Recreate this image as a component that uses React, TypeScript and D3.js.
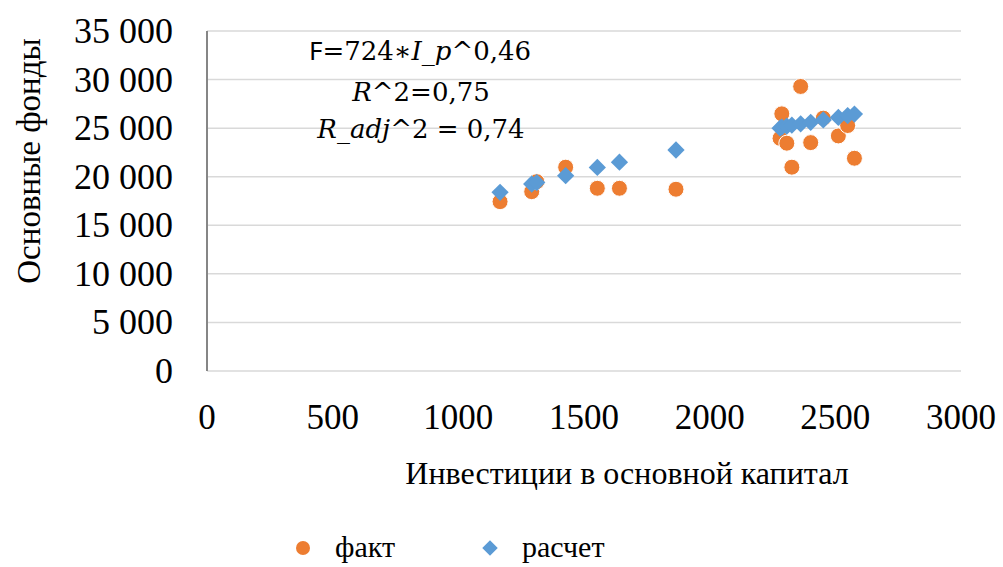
import * as d3 from "d3";

// инвестиции (ось X) и основные фонды (ось Y)
const investX = [1166, 1292, 1312, 1427, 1553, 1641, 1866, 2280, 2287, 2307, 2327, 2362, 2402, 2452, 2512, 2549, 2576];
const factY = [17430, 18460, 19490, 20980, 18810, 18810, 18710, 23950, 26470, 23450, 20980, 29290, 23510, 26030, 24200, 25270, 21900];
const calcY = [18400, 19250, 19400, 20100, 20950, 21500, 22750, 25000, 25100, 25200, 25300, 25450, 25600, 25850, 26100, 26300, 26450];

const xTicks = [0, 500, 1000, 1500, 2000, 2500, 3000];
const yTicks = [0, 5000, 10000, 15000, 20000, 25000, 30000, 35000];

const seriesNames = ["факт", "расчет"];
const ORANGE = "#ED7D31";
const BLUE = "#5B9BD5";

const serif = "'Liberation Serif', 'Times New Roman', serif";
const mathFont = "'DejaVu Serif', serif";

export default function App() {
  const W = 1003;
  const H = 567;
  const left = 207;
  const right = 961;
  const top = 31;
  const bottom = 371;

  const x = d3.scaleLinear().domain([0, 3000]).range([left, right]);
  const y = d3.scaleLinear().domain([0, 35000]).range([bottom, top]);

  const fmt = (v: number) => d3.format(",")(v).replace(/,/g, "\u00a0");
  const diamond = d3.symbol().type(d3.symbolDiamond2).size(190)();

  return (
    <svg width={W} height={H} style={{ position: "absolute", left: 0, top: 0, background: "#fff" }}>
      {/* сетка */}
      {yTicks.map((t) => (
        <line key={t} x1={left} x2={right} y1={y(t)} y2={y(t)} stroke="#d9d9d9" strokeWidth={1.5} />
      ))}
      <line x1={left} x2={left} y1={top} y2={bottom} stroke="#868686" strokeWidth={2} />

      {yTicks.map((t) => (
        <text key={t} x={173} y={y(t) + 12} textAnchor="end" fontFamily={serif} fontSize={36} fill="#000">
          {fmt(t)}
        </text>
      ))}
      {xTicks.map((t) => (
        <text key={t} x={x(t)} y={429} textAnchor="middle" fontFamily={serif} fontSize={35} fill="#000">
          {t}
        </text>
      ))}

      <text transform={`translate(40,161) rotate(-90)`} textAnchor="middle" fontFamily={serif} fontSize={33} fill="#000">
        Основные фонды
      </text>
      <text x={627} y={484} textAnchor="middle" fontFamily={serif} fontSize={32} fill="#000">
        Инвестиции в основной капитал
      </text>

      {/* точки */}
      {investX.map((v, i) => (
        <circle key={"f" + i} cx={x(v)} cy={y(factY[i])} r={8} fill={ORANGE} stroke="#fff" strokeWidth={1} />
      ))}
      {investX.map((v, i) => (
        <path key={"c" + i} d={diamond} transform={`translate(${x(v)},${y(calcY[i])})`} fill={BLUE} />
      ))}

      {/* уравнение */}
      <g fontFamily={mathFont} fontSize={26} fill="#000" textAnchor="middle">
        <text x={420} y={60}>
          <tspan fontFamily="'Noto Sans', sans-serif">F</tspan>=724∗<tspan fontStyle="italic">I</tspan>_<tspan fontStyle="italic">p</tspan>^0,46
        </text>
        <text x={421} y={101}>
          <tspan fontStyle="italic">R</tspan>^2=0,75
        </text>
        <text x={421} y={138}>
          <tspan fontStyle="italic">R</tspan>_<tspan fontStyle="italic">adj</tspan>^2 = 0,74
        </text>
      </g>

      {/* легенда */}
      <circle cx={303} cy={548} r={7} fill={ORANGE} />
      <text x={335} y={557} fontFamily={serif} fontSize={30} fill="#000">{seriesNames[0]}</text>
      <path d={diamond} transform="translate(490,548) scale(0.9)" fill={BLUE} />
      <text x={522} y={557} fontFamily={serif} fontSize={30} fill="#000">{seriesNames[1]}</text>
    </svg>
  );
}
